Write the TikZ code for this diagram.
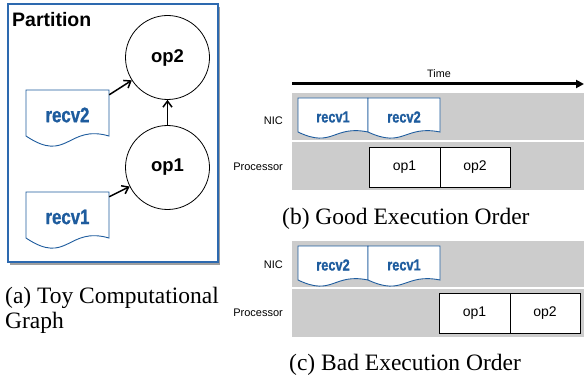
\documentclass[tikz,border=0pt]{standalone}
\usepackage{fontspec}
\setmainfont{Liberation Serif}
\setsansfont{Liberation Sans}
\newfontfamily\heavysans{Liberation Sans}[BoldFeatures={FakeBold=0.9,FakeStretch=0.8}]
\usetikzlibrary{arrows.meta,calc}
\definecolor{boxblue}{RGB}{45,105,175}
\definecolor{docblue}{RGB}{30,92,158}
\definecolor{bandgray}{RGB}{204,204,204}
\newcommand\mydoc[8]{%
  \draw[docline] (#2+#4,#3+#5) -- (#2+#4,#3) -- (#2,#3) -- (#2,#3+#5)
    .. controls +(0.5*#4,2.8*#6) and +(-0.5*#4,-1.2*#6) .. (#2+#4,#3+#5) -- cycle;
  \node[#8, minimum width=#4pt, minimum height=#5pt] (#1) at (#2+0.5*#4, #3+0.5*#5) {#7};}
\begin{document}
\begin{tikzpicture}[x=1pt,y=-1pt,
  docline/.style={draw=docblue, line width=0.9pt, fill=white},
  bigdoc/.style={inner sep=0pt, text=docblue, font=\heavysans\bfseries\fontsize{21}{21}\selectfont, yshift=-2pt},
  smalldoc/.style={inner sep=0pt, text=docblue, font=\heavysans\bfseries\fontsize{16}{16}\selectfont, yshift=-2pt},
  circ/.style={circle, draw, line width=0.8pt, minimum size=84pt, inner sep=0pt, font=\sffamily\bfseries\fontsize{18.5}{18.5}\selectfont},
  opbox/.style={rectangle, draw, fill=white, line width=0.8pt, minimum width=71pt, minimum height=40pt, inner sep=0pt, font=\sffamily\fontsize{14}{14}\selectfont},
  conn/.style={line width=1.5pt, -{Straight Barb[length=6pt,width=9pt,line width=1.5pt]}},
  rowlabel/.style={anchor=east, inner sep=0pt, font=\sffamily\fontsize{11}{11}\selectfont},
  band/.style={fill=bandgray, draw=none},
  caption/.style={anchor=base west, inner sep=0pt, font=\fontsize{23.5}{25}\selectfont}]
\useasboundingbox (0,0) rectangle (584,377);

% ---- (a) toy computational graph ----
\fill[gray!75] (10,7) rectangle (220,265);
\draw[boxblue, line width=1.2pt, fill=white] (8,4) rectangle (218,262);
\node[anchor=base west, inner sep=0pt, font=\sffamily\bfseries\fontsize{19.5}{19.5}\selectfont] (ptitle) at (12,27) {Partition};
\node[circ] (op2) at (167.5,57.5) {op2};
\node[circ] (op1) at (167.5,167.5) {op1};
\mydoc{recv2}{26}{90}{83}{46}{10}{recv2}{bigdoc}
\mydoc{recv1}{26}{192}{83}{46}{10}{recv1}{bigdoc}
\draw[conn] ([yshift=-3pt]recv2.north east) -- (op2);
\draw[conn] ([yshift=-3pt]recv1.north east) -- (op1);
\draw[conn] (op1) -- (op2);
\node[caption] (capa1) at (5,303.5) {(a) Toy Computational};
\node[caption] (capa2) at (5,328.5) {Graph};

% ---- time axis ----
\coordinate (t0) at (292,84);
\coordinate (t1) at (584,84);
\draw[line width=3pt, -{Triangle[length=8pt,width=8pt]}] (t0) -- (t1);
\node[inner sep=0pt, font=\sffamily\fontsize{10.8}{10.8}\selectfont] (time) at (439,74) {Time};

% ---- (b) good execution order ----
\path[band] (292,93) rectangle (584,140);
\path[band] (292,142) rectangle (584,190);
\node[rowlabel] (bnic) at (283,121) {NIC};
\node[rowlabel] (bproc) at (283,167) {Processor};
\mydoc{brecv1}{298}{98}{70}{34}{6}{recv1}{smalldoc}
\mydoc{brecv2}{368}{98}{72}{34}{6}{recv2}{smalldoc}
\node[opbox] (bop1) at (404.5,167) {op1};
\node[opbox, minimum width=70pt] (bop2) at (475,167) {op2};
\node[caption] (capb) at (282,225) {(b) Good Execution Order};

% ---- (c) bad execution order ----
\path[band] (292,241) rectangle (584,287);
\path[band] (292,289) rectangle (584,337);
\node[rowlabel] (cnic) at (283,265) {NIC};
\node[rowlabel] (cproc) at (283,313) {Processor};
\mydoc{crecv2}{298}{246}{70}{34}{6}{recv2}{smalldoc}
\mydoc{crecv1}{368}{246}{72}{34}{6}{recv1}{smalldoc}
\node[opbox] (cop1) at (474.5,313) {op1};
\node[opbox, minimum width=70pt] (cop2) at (545,313) {op2};
\node[caption] (capc) at (289,370) {(c) Bad Execution Order};
\end{tikzpicture}
\end{document}
